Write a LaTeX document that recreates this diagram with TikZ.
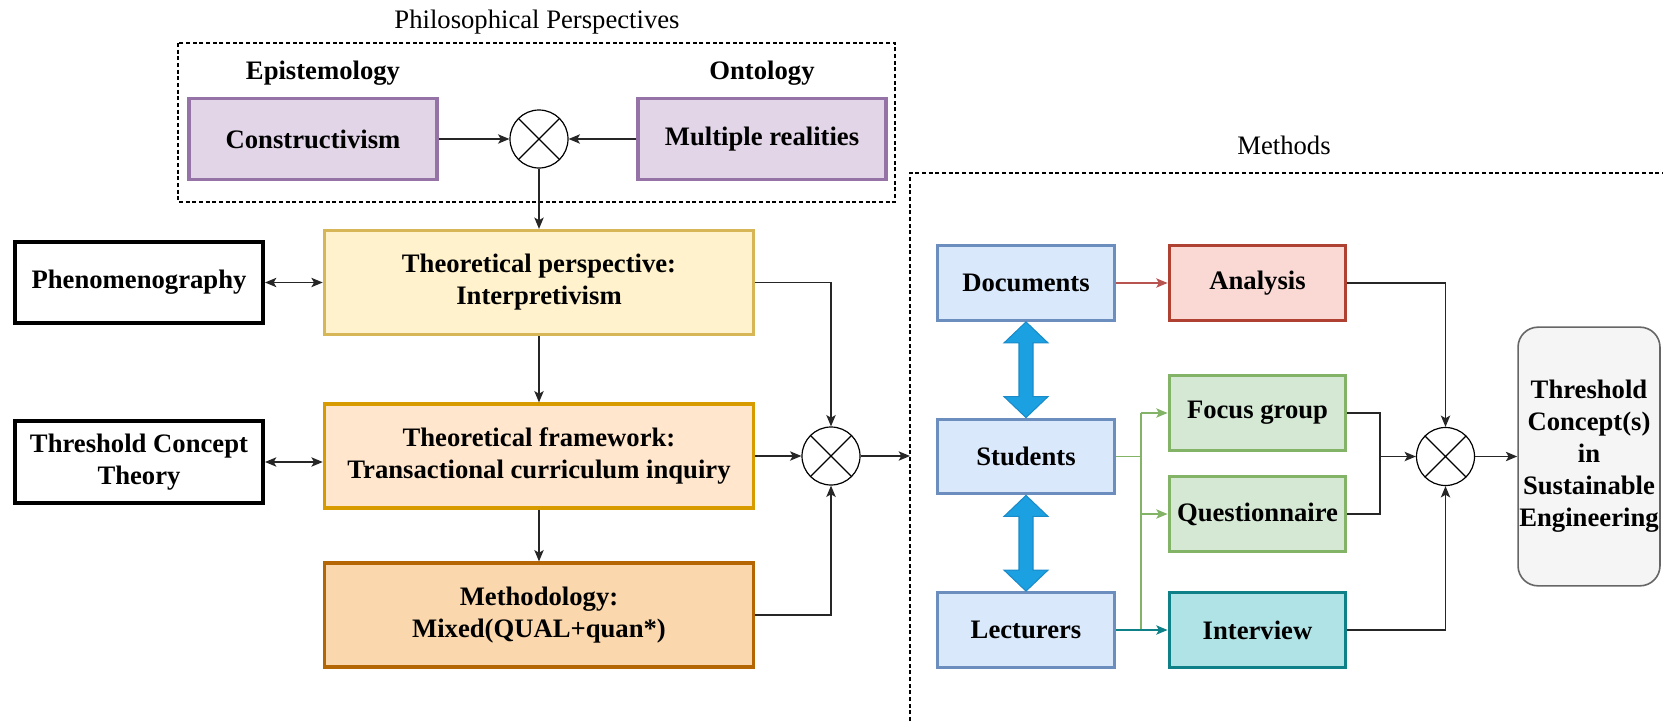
\documentclass[tikz,border=0pt]{standalone}
\usepackage{fontspec}
\setmainfont{Liberation Serif}
\usetikzlibrary{arrows.meta,calc}

% drawio-like palette
\definecolor{purpleFill}{HTML}{E1D5E7}\definecolor{purpleLine}{HTML}{9673A6}
\definecolor{yellowFill}{HTML}{FFF2CC}\definecolor{yellowLine}{HTML}{D6B656}
\definecolor{orangeFill}{HTML}{FFE6CC}\definecolor{orangeLine}{HTML}{D79B00}
\definecolor{brownFill}{HTML}{FAD7AC}\definecolor{brownLine}{HTML}{B46504}
\definecolor{blueFill}{HTML}{DAE8FC}\definecolor{blueLine}{HTML}{6C8EBF}
\definecolor{redFill}{HTML}{FAD9D5}\definecolor{redLine}{HTML}{AE4132}
\definecolor{greenFill}{HTML}{D5E8D4}\definecolor{greenLine}{HTML}{82B366}
\definecolor{tealFill}{HTML}{B0E3E6}\definecolor{tealLine}{HTML}{0E8088}
\definecolor{greyFill}{HTML}{F5F5F5}\definecolor{greyLine}{HTML}{666666}
\definecolor{flowBlue}{HTML}{1BA1E2}\definecolor{flowBlueLine}{HTML}{1A8BC8}
\definecolor{docArrow}{HTML}{B85450}

\begin{document}
\begin{tikzpicture}[x=0.75pt,y=-0.75pt,
  every node/.style={font=\fontsize{20}{24}\selectfont},
  box/.style={draw, line width=2.4pt, align=center, inner sep=2pt,
    font=\fontsize{20}{24}\selectfont\bfseries},
  philbox/.style={box, fill=purpleFill, draw=purpleLine, minimum width=186pt, minimum height=61pt},
  plainbox/.style={box, fill=white, draw=black, line width=3pt, minimum width=186pt, minimum height=61pt},
  widebox/.style={box, minimum width=322pt, minimum height=78pt},
  methbox/.style={box, minimum width=132.5pt, minimum height=56pt},
  srcbox/.style={methbox, fill=blueFill, draw=blueLine},
  heading/.style={font=\fontsize{20}{24}\selectfont\bfseries},
  caption/.style={font=\fontsize{20}{24}\selectfont},
  mix/.style={draw, circle, inner sep=0pt, minimum size=43.5pt, line width=0.9pt,
    path picture={\draw[line width=0.9pt]
      (path picture bounding box.north west) -- (path picture bounding box.south east)
      (path picture bounding box.north east) -- (path picture bounding box.south west);}},
  tip/.style={-{Stealth[length=8.5pt,width=7pt,inset=2pt]}},
  link/.style={line width=1.05pt, draw=black!85},
  arr/.style={link, tip},
  darr/.style={link, {Stealth[length=8.5pt,width=7pt,inset=2pt]}-{Stealth[length=8.5pt,width=7pt,inset=2pt]}},
  region/.style={line width=0.8pt, dash pattern=on 3pt off 2pt},
  bigflow/.style={fill=flowBlue, draw=flowBlueLine, line width=0.8pt, line join=miter}
]
\useasboundingbox (0,0) rectangle (1663,721);

% ---------- philosophical perspectives ----------
\node[caption] (philtitle) at (537,22) {Philosophical Perspectives};
\draw[region] (178,43) rectangle (895,202);
\node[heading] (epi) at (323,73) {Epistemology};
\node[heading] (ont) at (762,73) {Ontology};
\node[philbox] (cons) at (313,139) {Constructivism};
\node[philbox] (mult) at (762,139) {Multiple realities};
\node[mix] (x1) at (539,139) {};

% ---------- theoretical chain ----------
\node[widebox, fill=yellowFill, draw=yellowLine] (tp) at (539,282.5) {Theoretical perspective:\\Interpretivism};
\node[widebox, fill=orangeFill, draw=orangeLine] (tf) at (539,456) {Theoretical framework:\\Transactional curriculum inquiry};
\node[widebox, fill=brownFill, draw=brownLine] (meth) at (539,615) {Methodology:\\Mixed(QUAL+quan*)};
\node[plainbox] (phen) at (139,282.5) {Phenomenography};
\node[plainbox] (tct) at (139,462) {Threshold Concept\\Theory};
\node[mix] (x2) at (831,456) {};

% ---------- methods ----------
\node[caption] (methtitle) at (1284,145) {Methods};
\coordinate (mcorner) at (910,173);
\draw[region] (910,721) -- (mcorner) -- (1663,173);

\node[srcbox] (doc) at (1026,283) {Documents};
\node[srcbox] (stu) at (1026,456.5) {Students};
\node[srcbox] (lec) at (1026,630) {Lecturers};
\node[methbox, fill=redFill, draw=redLine] (ana) at (1257.5,283) {Analysis};
\node[methbox, fill=greenFill, draw=greenLine] (foc) at (1257.5,413) {Focus group};
\node[methbox, fill=greenFill, draw=greenLine] (que) at (1257.5,514) {Questionnaire};
\node[methbox, fill=tealFill, draw=tealLine] (int) at (1257.5,630) {Interview};
\node[mix] (x3) at (1445.5,456.5) {};
\node[box, fill=greyFill, draw=greyLine, line width=1.2pt, rounded corners=15pt,
      minimum width=106pt, minimum height=194pt, inner sep=1pt] (tc) at (1589,456.5)
      {Threshold\\Concept(s)\\in\\Sustainable\\Engineering};

% ---------- connectors: left part ----------
\draw[arr] (cons) -- (x1);
\draw[arr] (mult) -- (x1);
\draw[arr] (x1.south) -- (x1.south |- tp.north);
\draw[darr] (phen) -- (tp);
\draw[darr] (tct.east) -- (tct.east -| tf.west);
\draw[arr] (tp) -- (tf);
\draw[arr] (tf) -- (meth);
\draw[arr] (tp.east) -| (x2.north);
\draw[arr] (tf.east) -- (x2.west);
\draw[arr] (meth.east) -| (x2.south);
\draw[arr] (x2.east) -- (x2.east -| mcorner);

% ---------- connectors: methods ----------
\draw[link, draw=docArrow, tip] (doc) -- (ana);
\coordinate (split) at (1141,456.5);
\draw[link, draw=greenLine] (stu.east) -- (split);
\draw[link, draw=greenLine] (split |- foc.west) -- (split |- lec.east);
\draw[link, draw=greenLine, tip] (split |- foc.west) -- (foc.west);
\draw[link, draw=greenLine, tip] (split |- que.west) -- (que.west);
\draw[link, draw=tealLine, tip] (lec) -- (int);

\coordinate (join) at (1380,456.5);
\draw[link] (foc.east) -| (join) |- (que.east);
\draw[arr] (join) -- (x3.west);
\draw[arr] (ana.east) -| (x3.north);
\draw[arr] (int.east) -| (x3.south);
\draw[arr] (x3.east) -- (tc.west);

% ---------- wide two-way arrows between sources ----------
\foreach \a/\b in {doc/stu, stu/lec}{
  \draw[bigflow] (\a.south) -- ($(\a.south)+(22,21)$) -- ($(\a.south)+(7,21)$)
    -- ($(\b.north)+(7,-21)$) -- ($(\b.north)+(22,-21)$) -- (\b.north)
    -- ($(\b.north)+(-22,-21)$) -- ($(\b.north)+(-7,-21)$)
    -- ($(\a.south)+(-7,21)$) -- ($(\a.south)+(-22,21)$) -- cycle;
}
\end{tikzpicture}
\end{document}
